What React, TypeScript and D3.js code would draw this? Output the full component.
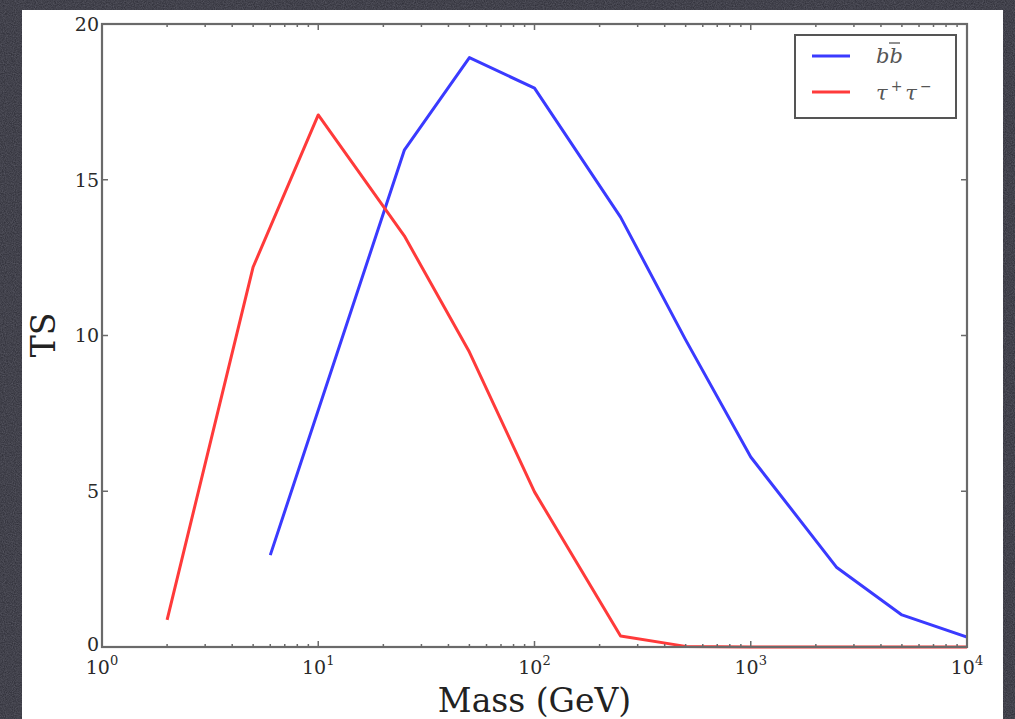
import React from "react";
import * as d3 from "d3";

const massBB = [6, 25, 50, 100, 250, 500, 1000, 2500, 5000, 10000];
const tsBB = [2.95, 15.95, 18.92, 17.94, 13.8, 9.86, 6.1, 2.55, 1.03, 0.32];
const massTau = [2, 5, 10, 25, 50, 100, 250, 500, 1000, 2500, 5000, 10000];
const tsTau = [0.87, 12.2, 17.08, 13.2, 9.47, 4.98, 0.35, 0.02, 0, 0, 0, 0];
const yTicks = [0, 5, 10, 15, 20];
const xDecades = [0, 1, 2, 3, 4];

const W = 1015, H = 719;
const L = 102, R = 967, T = 24, B = 647;

export default function App() {
  const x = d3.scaleLog().domain([1, 10000]).range([L, R]);
  const y = d3.scaleLinear().domain([0, 20]).range([B, T]);
  const line = d3.line<[number, number]>().x(d => x(d[0])).y(d => y(d[1]));
  const bb = line(massBB.map((m, i) => [m, tsBB[i]]) as [number, number][]) || "";
  const tau = line(massTau.map((m, i) => [m, tsTau[i]]) as [number, number][]) || "";
  const minors: number[] = [];
  for (let d = 0; d < 4; d++) for (let k = 2; k <= 9; k++) minors.push(k * Math.pow(10, d));
  const serif = "'DejaVu Serif', 'Liberation Serif', serif";
  const axisColor = "#6a6a6a";
  return (
    <svg width={W} height={H} style={{ position: "absolute", left: 0, top: 0 }}>
      <defs>
        <filter id="noise" x="0" y="0" width="100%" height="100%">
          <feTurbulence type="fractalNoise" baseFrequency="0.9" numOctaves={2} seed={3} />
          <feColorMatrix type="matrix" values="0 0 0 0 0.3  0 0 0 0 0.3  0 0 0 0 0.36  0 0 0 0.45 0" />
        </filter>
        <clipPath id="plot"><rect x={L} y={T - 2} width={R - L} height={B - T + 4} /></clipPath>
      </defs>
      <rect x={0} y={0} width={W} height={H} fill="#2a2a33" />
      <rect x={0} y={0} width={W} height={H} filter="url(#noise)" />
      <rect x={22} y={10} width={981} height={H - 10} fill="#ffffff" />

      <g clipPath="url(#plot)" fill="none" strokeWidth={3} strokeLinejoin="round">
        <path d={bb} stroke="#3a3aff" />
        <path d={tau} stroke="#ff3a3a" />
      </g>

      {/* ticks */}
      <g stroke={axisColor} strokeWidth={1.5}>
        {yTicks.map(t => (
          <g key={"y" + t}>
            <line x1={L} x2={L + 6} y1={y(t)} y2={y(t)} />
            <line x1={R} x2={R - 6} y1={y(t)} y2={y(t)} />
          </g>
        ))}
        {xDecades.map(d => (
          <g key={"x" + d}>
            <line x1={x(Math.pow(10, d))} x2={x(Math.pow(10, d))} y1={B} y2={B - 6} />
            <line x1={x(Math.pow(10, d))} x2={x(Math.pow(10, d))} y1={T} y2={T + 6} />
          </g>
        ))}
        {minors.map(m => (
          <g key={"m" + m}>
            <line x1={x(m)} x2={x(m)} y1={B} y2={B - 3} />
            <line x1={x(m)} x2={x(m)} y1={T} y2={T + 3} />
          </g>
        ))}
      </g>
      <rect x={L} y={T} width={R - L} height={B - T} fill="none" stroke={axisColor} strokeWidth={2.2} />

      {/* tick labels */}
      <g fontFamily={serif} fontSize={19} fill="#2a2a2a">
        {yTicks.map(t => (
          <text key={"yl" + t} x={L - 3} y={y(t)} dy={t === 0 ? "0.2em" : "0.36em"} textAnchor="end">{t}</text>
        ))}
        {xDecades.map(d => (
          <text key={"xl" + d} x={x(Math.pow(10, d))} y={674} textAnchor="middle">
            10<tspan fontSize={13} dy={-9}>{d}</tspan>
          </text>
        ))}
      </g>

      {/* axis labels */}
      <text x={(L + R) / 2} y={712} textAnchor="middle" fontFamily={serif} fontSize={33} fill="#222">Mass (GeV)</text>
      <text transform={`translate(55,335) rotate(-90)`} textAnchor="middle" fontFamily={serif} fontSize={33} fill="#222">TS</text>

      {/* legend */}
      <rect x={795} y={35} width={161} height={83} fill="#fff" stroke="#555" strokeWidth={2} />
      <line x1={812} x2={850} y1={56} y2={56} stroke="#3a3aff" strokeWidth={3} />
      <line x1={812} x2={850} y1={92} y2={92} stroke="#ff3a3a" strokeWidth={3} />
      <g fontFamily={serif} fontStyle="italic" fontSize={21} fill="#555">
        <text x={876} y={63}>b<tspan>b</tspan></text>
        <line x1={889} x2={900} y1={43} y2={43} stroke="#555" strokeWidth={1.3} />
        <text x={876} y={100}>τ<tspan fontSize={14} dx={3} dy={-9}>+</tspan><tspan dx={3} dy={9}>τ</tspan><tspan fontSize={14} dx={3} dy={-9}>−</tspan></text>
      </g>
    </svg>
  );
}
